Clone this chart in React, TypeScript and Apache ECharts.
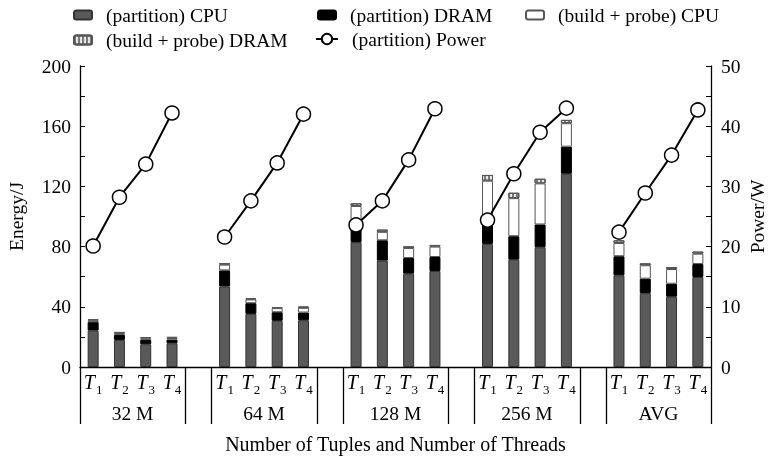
import React, { useEffect, useRef } from "react";
import * as echarts from "echarts";

const groups = ["32 M", "64 M", "128 M", "256 M", "AVG"];
const threads = ["1", "2", "3", "4"];

const partitionCPU = [24.2, 18, 15.1, 15.8, 53.5, 35.3, 30.7, 31.1, 83, 70.7, 62, 63.8, 81.8, 71.3, 79.6, 128.4, 60.9, 49.1, 46.7, 59.8];
const partitionDRAM = [5.6, 3.3, 2.9, 2.4, 10.7, 7.1, 5.7, 5.1, 9, 13.5, 10.4, 9.3, 14, 15.6, 15.1, 18, 12.7, 9.6, 8.6, 8.6];
const buildProbeCPU = [1.2, 1.3, 1.1, 1.1, 3.8, 2.5, 2.7, 3.1, 15, 5.6, 6.7, 6.9, 28, 25.3, 27.3, 15.6, 8.8, 8.9, 9.8, 6.9];
const buildProbeDRAM = [0.7, 0.7, 0.8, 0.7, 1, 0.7, 0.7, 0.9, 1.8, 1.5, 1.1, 1.1, 3.8, 3.6, 3.1, 2.2, 1.8, 1.3, 1.3, 1.4];
const partitionPower = [20.1, 28.2, 33.7, 42.2, 21.6, 27.6, 33.9, 42.0, 23.6, 27.6, 34.4, 42.9, 24.4, 32.1, 39.0, 43.0, 22.4, 28.9, 35.2, 42.7];

const energyTicks = [0, 40, 80, 120, 160, 200];
const powerTicks = [0, 10, 20, 30, 40, 50];

const FONT = "Liberation Serif";

// build 24 slots: 4 threads per group with one empty slot between groups
const slots: string[] = [];
const slotIndex: number[][] = [];
groups.forEach((g, gi) => {
  if (gi > 0) slots.push("");
  slotIndex.push([]);
  threads.forEach((t) => {
    slotIndex[gi].push(slots.length);
    slots.push(g + "|" + t);
  });
});
function spread(vals: number[]): (number | null)[] {
  const out: (number | null)[] = slots.map(() => null);
  groups.forEach((g, gi) => threads.forEach((t, ti) => { out[slotIndex[gi][ti]] = vals[gi * threads.length + ti]; }));
  return out;
}

const N1 = "(partition) CPU";
const N2 = "(partition) DRAM";
const N3 = "(build + probe) CPU";
const N4 = "(build + probe) DRAM";
const N5 = "(partition) Power";

export default function App() {
  const ref = useRef<HTMLDivElement>(null);
  useEffect(() => {
    document.body.style.margin = "0";
    document.body.style.overflow = "hidden";
    document.documentElement.style.overflow = "hidden";
    const chart = echarts.init(ref.current!, null, { renderer: "svg", width: 774, height: 457 });
    const legendText = { fontFamily: FONT, fontSize: 19.5, color: "#000", padding: [0, 0, 0, 9] };
    const mkLegend = (name: string, left: number, top: number, w = 18, h = 9) => ({
      data: [name], left, top, itemWidth: w, itemHeight: h, textStyle: legendText, padding: 0, selectedMode: false,
    });
    const barBase = { type: "bar", stack: "e", barWidth: 11, yAxisIndex: 0 };
    chart.setOption({
      animation: false,
      legend: [
        mkLegend(N1, 73, 5),
        mkLegend(N2, 317, 5),
        mkLegend(N3, 525, 5),
        mkLegend(N4, 73, 30),
        mkLegend(N5, 315, 29, 22, 13),
      ],
      grid: { left: 80, right: 63, top: 66, bottom: 90, outerBoundsMode: "none", containLabel: false },
      xAxis: {
        type: "category",
        data: slots,
        axisLine: { lineStyle: { color: "#000", width: 1.3 } },
        axisTick: { show: false },
        axisLabel: {
          interval: 0,
          margin: 5,
          formatter: (v: string) => (v ? "{t|T}{s|" + v.split("|")[1] + "}" : ""),
          rich: {
            t: { fontFamily: FONT, fontStyle: "italic", fontSize: 20, color: "#000", verticalAlign: "bottom" },
            s: { fontFamily: FONT, fontSize: 13, color: "#000", verticalAlign: "bottom", padding: [0, 0, -4, 1] },
          },
        },
        name: "Number of Tuples and Number of Threads",
        nameLocation: "middle",
        nameGap: 67,
        nameMoveOverlap: false,
        nameTextStyle: { fontFamily: FONT, fontSize: 20, color: "#000" },
      },
      yAxis: [
        {
          type: "value", min: 0, max: 200, interval: 20,
          axisLine: { show: true, lineStyle: { color: "#000", width: 1.3 } },
          axisTick: { show: true, inside: true, length: 5, lineStyle: { color: "#000" } },
          splitLine: { show: false },
          axisLabel: { margin: 9, fontFamily: FONT, fontSize: 19.5, color: "#000", formatter: (v: number) => (energyTicks.includes(v) ? String(v) : "") },
          name: "Energy/J", nameLocation: "middle", nameGap: 54, nameMoveOverlap: false,
          nameTextStyle: { fontFamily: FONT, fontSize: 19.5, color: "#000" },
        },
        {
          type: "value", min: 0, max: 50, interval: 5,
          axisLine: { show: true, lineStyle: { color: "#000", width: 1.3 } },
          axisTick: { show: true, inside: true, length: 5, lineStyle: { color: "#000" } },
          splitLine: { show: false },
          axisLabel: { margin: 10, fontFamily: FONT, fontSize: 19.5, color: "#000", formatter: (v: number) => (powerTicks.includes(v) ? String(v) : "") },
          name: "Power/W", nameLocation: "middle", nameGap: 36, nameMoveOverlap: false,
          nameTextStyle: { fontFamily: FONT, fontSize: 19.5, color: "#000" },
        },
      ],
      series: [
        { ...barBase, name: N1, data: spread(partitionCPU), itemStyle: { color: "#5a5a5a", borderColor: "#333", borderWidth: 1 } },
        { ...barBase, name: N2, data: spread(partitionDRAM), itemStyle: { color: "#000", borderColor: "#000", borderWidth: 1 } },
        { ...barBase, name: N3, data: spread(buildProbeCPU), itemStyle: { color: "#fff", borderColor: "#555", borderWidth: 1 } },
        {
          ...barBase, name: N4, data: spread(buildProbeDRAM),
          itemStyle: {
            color: "#e6e6e6", borderColor: "#555", borderWidth: 1,
            decal: { symbol: "rect", symbolSize: 1, color: "#777", dashArrayX: [1.5, 1.5], dashArrayY: [10, 0], rotation: 0 },
          },
        },
        {
          type: "line", name: N5, yAxisIndex: 1, data: spread(partitionPower), connectNulls: false, z: 5,
          symbol: "circle", symbolSize: 14,
          itemStyle: { color: "#fff", borderColor: "#000", borderWidth: 1.5 },
          lineStyle: { color: "#000", width: 2 },
        },
      ],
    });

    const px = (i: number) => chart.convertToPixel({ xAxisIndex: 0 }, i) as number;
    const y0 = chart.convertToPixel({ yAxisIndex: 0 }, 0) as number;
    const step = px(1) - px(0);
    const graphics: any[] = [];
    groups.forEach((g, gi) => {
      const first = slotIndex[gi][0];
      const last = slotIndex[gi][threads.length - 1];
      const l = px(first) - step / 2;
      const r = px(last) + step / 2;
      [l, r].forEach((x) => graphics.push({
        type: "line", silent: true,
        shape: { x1: Math.round(x) + 0.5, y1: y0, x2: Math.round(x) + 0.5, y2: y0 + 57 },
        style: { stroke: "#000", lineWidth: 1.3 },
      }));
      graphics.push({
        type: "text", silent: true, x: (l + r) / 2, y: y0 + 46,
        style: { text: g, fontFamily: FONT, fontSize: 19.5, fill: "#000", align: "center", verticalAlign: "middle" },
      });
    });
    chart.setOption({ graphic: graphics });
    return () => chart.dispose();
  }, []);
  return <div ref={ref} style={{ position: "fixed", left: 0, top: 0, width: 774, height: 457 }} />;
}
